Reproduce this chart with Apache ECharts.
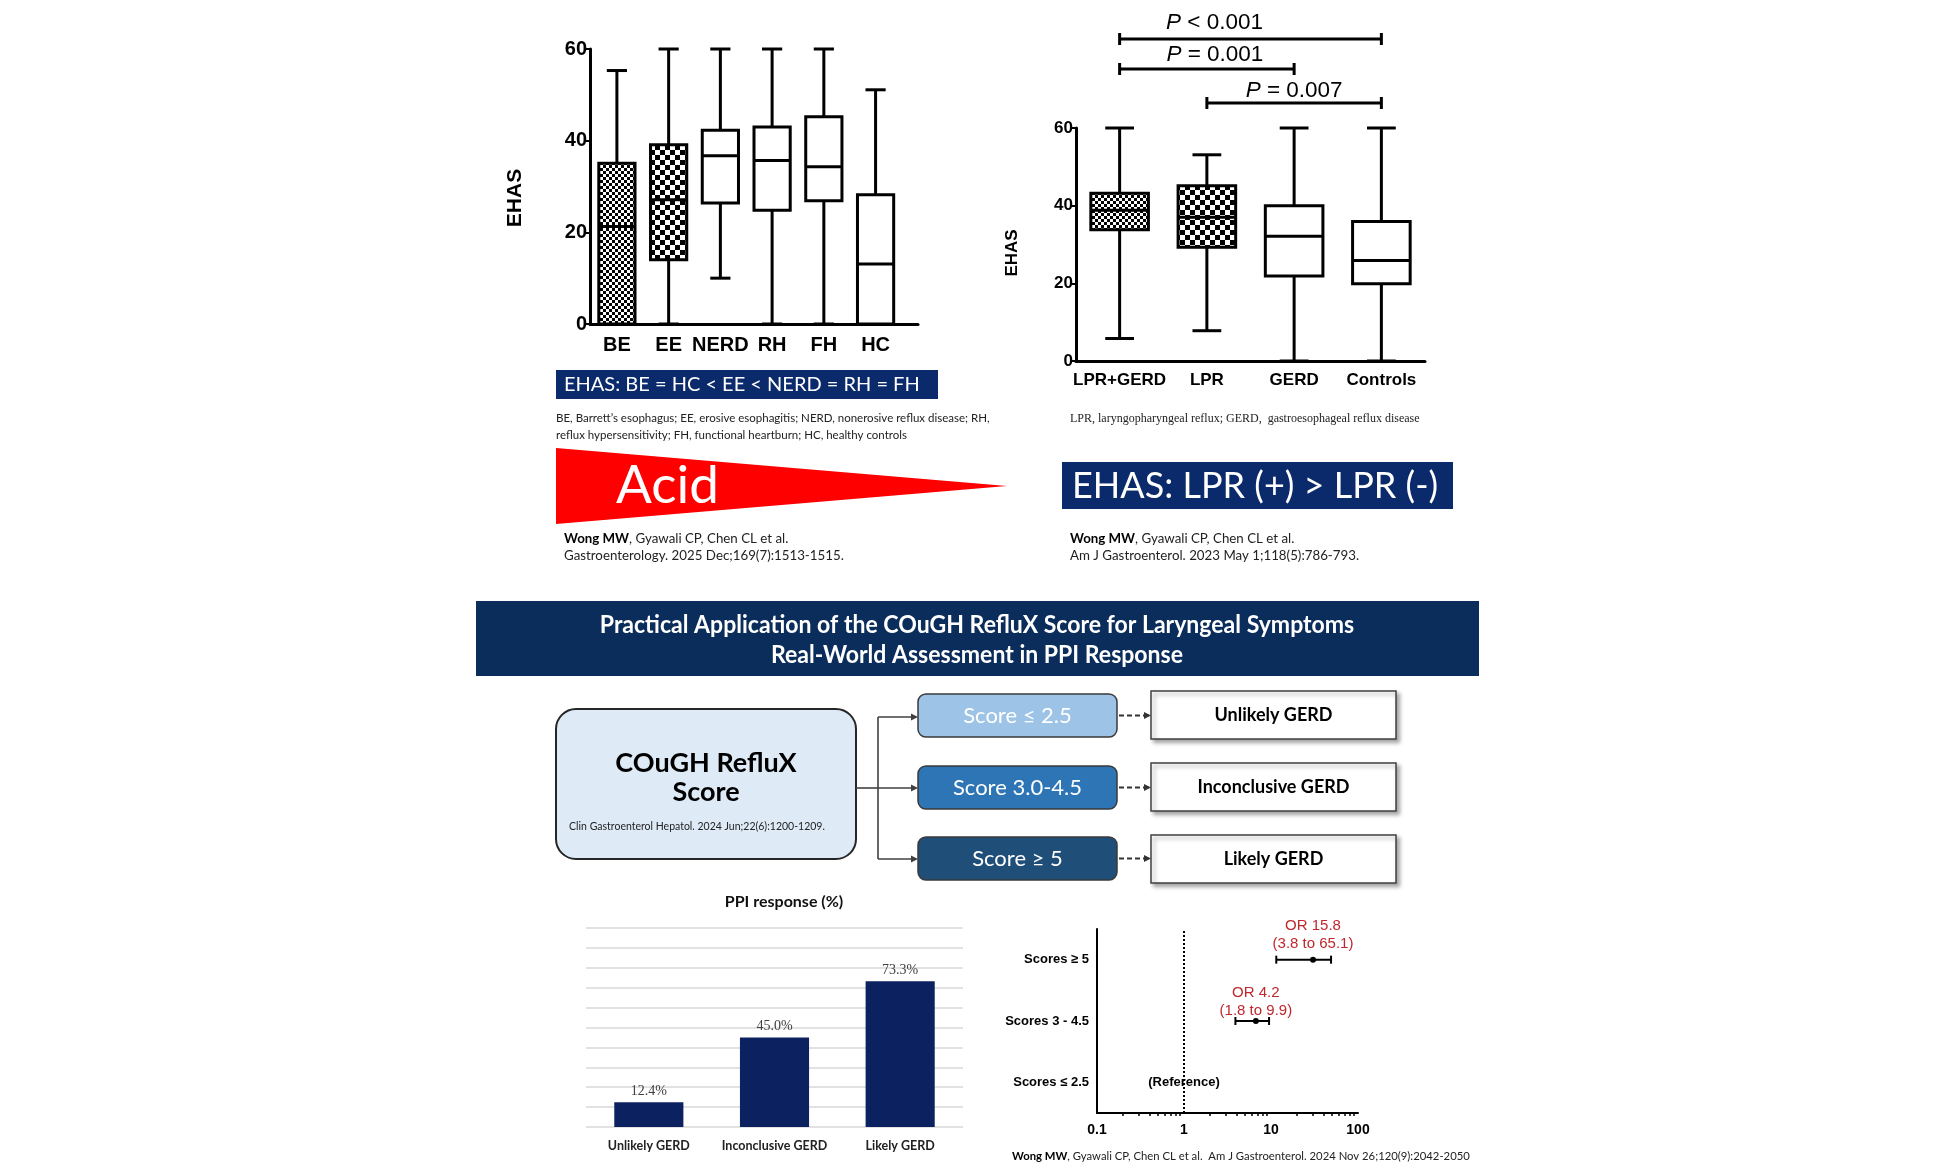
<!DOCTYPE html>
<html><head><meta charset="utf-8">
<script src="https://cdn.jsdelivr.net/npm/echarts@6/dist/echarts.min.js"></script>
<style>html,body{margin:0;padding:0;background:#fff}#c{width:1955px;height:1171px}</style>
</head><body><div id="c"></div>
<script>
// ---------- DATA ----------
const leftCats = ['BE', 'EE', 'NERD', 'RH', 'FH', 'HC'];
const leftMin = [0, 0, 10, 0, 0, 0];
const leftQ1 = [0, 14, 26.4, 24.8, 26.9, 0];
const leftMed = [21.3, 27.1, 36.7, 35.7, 34.3, 13.1];
const leftQ3 = [35.1, 39.1, 42.3, 43.0, 45.2, 28.2];
const leftMax = [55.3, 60, 60, 60, 60, 51.1];
const leftFill = ['fine', 'coarse', 'none', 'none', 'none', 'none'];

const rightCats = ['LPR+GERD', 'LPR', 'GERD', 'Controls'];
const rightMin = [5.8, 7.8, 0, 0];
const rightQ1 = [33.8, 29.3, 21.9, 19.9];
const rightMed = [38.8, 37.0, 32.1, 25.9];
const rightQ3 = [43.2, 45.1, 40.0, 35.9];
const rightMax = [60, 53.1, 60, 60];
const rightFill = ['fine', 'medium', 'none', 'none'];

const sigFrom = [0, 0, 1];
const sigTo = [3, 2, 3];
const sigText = ['< 0.001', '= 0.001', '= 0.007'];

const ppiCats = ['Unlikely GERD', 'Inconclusive GERD', 'Likely GERD'];
const ppiValues = [12.4, 45.0, 73.3];

const forestCats = ['Scores \u2264 2.5', 'Scores 3 - 4.5', 'Scores \u2265 5'];
const forestRows = ['Scores 3 - 4.5', 'Scores \u2265 5'];
const forestPoint = [6.7, 30.4];
const forestLow = [3.9, 11.5];
const forestHigh = [9.5, 49];
const forestLabels = ['OR 4.2\n(1.8 to 9.9)', 'OR 15.8\n(3.8 to 65.1)'];
const refRow = 'Scores \u2264 2.5';
const refValue = 1;
const refText = '(Reference)';
const forestMinorTicks = [0.2,0.3,0.4,0.5,0.6,0.7,0.8,0.9,2,3,4,5,6,7,8,9,20,30,40,50,60,70,80,90];

// ---------- patterns ----------
function checker(sz) {
  const c = document.createElement('canvas');
  c.width = c.height = sz * 2;
  const g = c.getContext('2d');
  g.fillStyle = '#fff'; g.fillRect(0, 0, sz * 2, sz * 2);
  g.fillStyle = '#000'; g.fillRect(0, 0, sz, sz); g.fillRect(sz, sz, sz, sz);
  return { image: c, repeat: 'repeat' };
}
const patterns = { fine: checker(3), coarse: checker(5), medium: checker(5) };

const SANS = 'Liberation Sans, Arial, sans-serif';
const CAL = 'Lato, Open Sans, sans-serif';

function makeBox(fills, boxFrac, capFrac) {
  return function (params, api) {
    const i = params.dataIndex;
    const x = api.value(0);
    const v = [1, 2, 3, 4, 5].map(k => api.value(k));
    const p = v.map(val => api.coord([x, val]));
    const band = api.size([1, 0])[0];
    const hw = band * boxFrac / 2, cw = band * capFrac / 2, cx = p[0][0];
    const st = { stroke: '#000', lineWidth: 3 };
    const ch = [];
    if (v[4] > v[3]) {
      ch.push({ type: 'line', shape: { x1: cx, y1: p[4][1], x2: cx, y2: p[3][1] }, style: st });
      ch.push({ type: 'line', shape: { x1: cx - cw, y1: p[4][1], x2: cx + cw, y2: p[4][1] }, style: st });
    }
    if (v[1] > v[0]) {
      ch.push({ type: 'line', shape: { x1: cx, y1: p[0][1], x2: cx, y2: p[1][1] }, style: st });
      ch.push({ type: 'line', shape: { x1: cx - cw, y1: p[0][1], x2: cx + cw, y2: p[0][1] }, style: st });
    }
    ch.push({ type: 'rect', shape: { x: cx - hw, y: p[3][1], width: 2 * hw, height: p[1][1] - p[3][1] },
      style: { fill: patterns[fills[i]] || '#fff', stroke: '#000', lineWidth: 3 } });
    ch.push({ type: 'line', shape: { x1: cx - hw, y1: p[2][1], x2: cx + hw, y2: p[2][1] }, style: st });
    return { type: 'group', children: ch };
  };
}

const sigOffsets = [89, 59, 25];
const sigTextGap = [16, 14, 12];
const sigShift = [-36, 8, 0];
const forestLabelGap = [1, 7];

const chart = echarts.init(document.getElementById('c'), null, { renderer: 'canvas', width: 1955, height: 1171 });

const T = (x, y, text, font, fill, align, va, extra) => Object.assign({
  type: 'text', x, y, style: { text, font, fill: fill || '#000', align: align || 'left', verticalAlign: va || 'middle' }
}, extra || {});

const graphics = [
  // axis names
  T(515, 198, 'EHAS', 'bold 21px ' + SANS, '#000', 'center', 'middle', { rotation: Math.PI / 2 }),
  T(1012, 253, 'EHAS', 'bold 17px ' + SANS, '#000', 'center', 'middle', { rotation: Math.PI / 2 }),
  // left banner
  { type: 'rect', shape: { x: 556, y: 370, width: 382, height: 29 }, style: { fill: '#0b2a6b' } },
  T(564, 385, 'EHAS: BE = HC < EE < NERD = RH = FH', '20px ' + CAL, '#fff'),
  T(556, 418, 'BE, Barrett\u2019s esophagus; EE, erosive esophagitis; NERD, nonerosive reflux disease; RH,', '11.5px ' + CAL, '#222'),
  T(556, 435, 'reflux hypersensitivity; FH, functional heartburn; HC, healthy controls', '11.5px ' + CAL, '#222'),
  // acid triangle
  { type: 'polygon', shape: { points: [[556, 448], [1007, 486], [556, 524]] }, style: { fill: '#ff0000' } },
  T(616, 486, 'Acid', '53px ' + CAL, '#fff'),
  { type: 'text', x: 564, y: 539, style: { text: '{b|Wong MW}, Gyawali CP, Chen CL et al.', font: '13.3px ' + CAL, fill: '#222', verticalAlign: 'middle',
    rich: { b: { fontWeight: 'bold', fontSize: 13.3, fontFamily: CAL, fill: '#000' } } } },
  T(564, 556, 'Gastroenterology. 2025 Dec;169(7):1513-1515.', '13.3px ' + CAL, '#222'),
  // right footnote & banner
  T(1070, 419, 'LPR, laryngopharyngeal reflux; GERD,  gastroesophageal reflux disease', '12px Liberation Serif, serif', '#222'),
  { type: 'rect', shape: { x: 1062, y: 462, width: 391, height: 47 }, style: { fill: '#0b2a6b' } },
  T(1072, 486, 'EHAS: LPR (+) > LPR (-)', '36px ' + CAL, '#fff'),
  { type: 'text', x: 1070, y: 539, style: { text: '{b|Wong MW}, Gyawali CP, Chen CL et al.', font: '13.3px ' + CAL, fill: '#222', verticalAlign: 'middle',
    rich: { b: { fontWeight: 'bold', fontSize: 13.3, fontFamily: CAL, fill: '#000' } } } },
  T(1070, 556, 'Am J Gastroenterol. 2023 May 1;118(5):786-793.', '13.3px ' + CAL, '#222'),
  // title banner
  { type: 'rect', shape: { x: 476, y: 601, width: 1003, height: 75 }, style: { fill: '#0b2d5b' } },
  T(977, 625, 'Practical Application of the COuGH RefluX Score for Laryngeal Symptoms', 'bold 24px ' + CAL, '#fff', 'center', 'middle', { scaleX: 0.96 }),
  T(977, 655, 'Real-World Assessment in PPI Response', 'bold 24px ' + CAL, '#fff', 'center', 'middle', { scaleX: 0.96 }),
  // flowchart
  { type: 'rect', shape: { x: 556, y: 709, width: 300, height: 150, r: 20 }, style: { fill: '#deebf7', stroke: '#262626', lineWidth: 2 } },
  T(706, 763, 'COuGH RefluX', 'bold 27px ' + CAL, '#000', 'center'),
  T(706, 792, 'Score', 'bold 27px ' + CAL, '#000', 'center'),
  T(697, 827, 'Clin Gastroenterol Hepatol. 2024 Jun;22(6):1200-1209.', '10.5px ' + CAL, '#222', 'center'),
  { type: 'polyline', shape: { points: [[856, 788], [878, 788]] }, style: { stroke: '#404040', lineWidth: 1.6, fill: 'none' } },
  { type: 'polyline', shape: { points: [[878, 717], [878, 859]] }, style: { stroke: '#404040', lineWidth: 1.6, fill: 'none' } }
];
const scoreY = [694, 766, 837];
const scoreCol = ['#9dc3e6', '#2e75b6', '#1f4e79'];
const scoreTxt = ['Score \u2264 2.5', 'Score 3.0-4.5', 'Score \u2265 5'];
const resY = [691, 763, 835];
const resTxt = ['Unlikely GERD', 'Inconclusive GERD', 'Likely GERD'];
const arrowY = [717, 788, 859];
for (let k = 0; k < 3; k++) {
  graphics.push({ type: 'polyline', shape: { points: [[878, arrowY[k]], [912, arrowY[k]]] }, style: { stroke: '#404040', lineWidth: 1.6, fill: 'none' } });
  graphics.push({ type: 'polygon', shape: { points: [[911, arrowY[k] - 3.5], [918, arrowY[k]], [911, arrowY[k] + 3.5]] }, style: { fill: '#404040' } });
  graphics.push({ type: 'rect', shape: { x: 918, y: scoreY[k], width: 199, height: 43, r: 8 }, style: { fill: scoreCol[k], stroke: '#3a3a3a', lineWidth: 1.5 } });
  graphics.push(T(1017.5, scoreY[k] + 21.5, scoreTxt[k], '22px ' + CAL, '#fff', 'center'));
  const cy = scoreY[k] + 21.5;
  graphics.push({ type: 'polyline', shape: { points: [[1119, cy], [1145, cy]] }, style: { stroke: '#333', lineWidth: 2, lineDash: [5, 3], fill: 'none' } });
  graphics.push({ type: 'polygon', shape: { points: [[1144, cy - 3.5], [1151, cy], [1144, cy + 3.5]] }, style: { fill: '#333' } });
  graphics.push({ type: 'rect', shape: { x: 1151, y: resY[k], width: 245, height: 48 },
    style: { fill: '#fff', stroke: '#404040', lineWidth: 1.5, shadowBlur: 4, shadowOffsetX: 3, shadowOffsetY: 3, shadowColor: 'rgba(0,0,0,0.35)' } });
  graphics.push(T(1273.5, resY[k] + 24, resTxt[k], 'bold 18px ' + CAL, '#000', 'center'));
}
graphics.push(T(784, 902, 'PPI response (%)', 'bold 16px ' + CAL, '#111', 'center'));
graphics.push({ type: 'text', x: 1012, y: 1156, style: { text: '{b|Wong MW}, Gyawali CP, Chen CL et al.  Am J Gastroenterol. 2024 Nov 26;120(9):2042-2050',
  font: '11.3px ' + CAL, fill: '#222', verticalAlign: 'middle', rich: { b: { fontWeight: 'bold', fontSize: 11.3, fontFamily: CAL, fill: '#000' } } } });

const axisLineBlack = (w) => ({ show: true, onZero: false, lineStyle: { color: '#000', width: w } });

const option = {
  animation: false,
  backgroundColor: '#fff',
  textStyle: { fontFamily: SANS },
  grid: [
    { left: 590, top: 49, width: 328, height: 275 },
    { left: 1076, top: 128, width: 349, height: 233 },
    { left: 586, top: 928, width: 377, height: 199 },
    { left: 1097, top: 929, width: 261, height: 184 }
  ],
  xAxis: [
    { gridIndex: 0, type: 'value', min: -0.52, max: 5.82, splitLine: { show: false }, axisTick: { show: false },
      axisLine: axisLineBlack(3),
      axisLabel: { customValues: leftCats.map((c, i) => i), formatter: v => leftCats[Math.round(v)], fontWeight: 'bold', fontSize: 20, color: '#000', margin: 11, fontFamily: SANS } },
    { gridIndex: 1, type: 'category', data: rightCats, axisTick: { show: false }, axisLine: axisLineBlack(3),
      axisLabel: { fontWeight: 'bold', fontSize: 17, color: '#000', margin: 11, fontFamily: SANS, interval: 0 } },
    { gridIndex: 2, type: 'category', data: ppiCats, axisTick: { show: false }, axisLine: { show: false },
      axisLabel: { fontWeight: 'bold', fontSize: 12.5, color: '#222', margin: 12, fontFamily: CAL, interval: 0 } },
    { gridIndex: 3, type: 'log', logBase: 10, min: 0.1, max: 100, splitLine: { show: false }, axisLine: axisLineBlack(2),
      axisTick: { length: 6, lineStyle: { width: 2, color: '#000' } },
      axisLabel: { fontWeight: 'bold', fontSize: 14, color: '#000', margin: 10, fontFamily: SANS, formatter: v => String(+(+v).toPrecision(3)) } },
    { gridIndex: 3, type: 'value', min: -1, max: 2, position: 'bottom', splitLine: { show: false }, axisLine: { show: false },
      axisLabel: { show: false }, axisTick: { show: true, length: 3, customValues: forestMinorTicks.map(v => Math.log10(v)), lineStyle: { width: 1.5, color: '#000' } } }
  ],
  yAxis: [
    { gridIndex: 0, type: 'value', min: 0, max: 60, interval: 20, splitLine: { show: false }, axisLine: axisLineBlack(3),
      axisTick: { show: true, length: 4, lineStyle: { width: 2, color: '#000' } },
      axisLabel: { fontWeight: 'bold', fontSize: 20, color: '#000', margin: 3, fontFamily: SANS } },
    { gridIndex: 1, type: 'value', min: 0, max: 60, interval: 20, splitLine: { show: false }, axisLine: axisLineBlack(3),
      axisTick: { show: true, length: 4, lineStyle: { width: 2, color: '#000' } },
      axisLabel: { fontWeight: 'bold', fontSize: 17, color: '#000', margin: 3, fontFamily: SANS } },
    { gridIndex: 2, type: 'value', min: 0, max: 100, interval: 10, axisLabel: { show: false }, axisLine: { show: false }, axisTick: { show: false },
      splitLine: { show: true, lineStyle: { color: '#d9d9d9', width: 1.5 } } },
    { gridIndex: 3, type: 'category', data: forestCats, axisLine: axisLineBlack(2),
      axisTick: { alignWithLabel: true, length: 5, lineStyle: { width: 2, color: '#000' } },
      axisLabel: { fontWeight: 'bold', fontSize: 13, color: '#000', margin: 8, fontFamily: SANS } }
  ],
  series: [
    { type: 'custom', xAxisIndex: 0, yAxisIndex: 0, renderItem: makeBox(leftFill, 0.7, 0.39),
      encode: { x: 0, y: [1, 2, 3, 4, 5] },
      data: leftCats.map((c, i) => [i, leftMin[i], leftQ1[i], leftMed[i], leftQ3[i], leftMax[i]]) },
    { type: 'custom', xAxisIndex: 1, yAxisIndex: 1, renderItem: makeBox(rightFill, 0.66, 0.33),
      encode: { x: 0, y: [1, 2, 3, 4, 5] },
      data: rightCats.map((c, i) => [i, rightMin[i], rightQ1[i], rightMed[i], rightQ3[i], rightMax[i]]) },
    { type: 'custom', xAxisIndex: 1, yAxisIndex: 1, encode: { x: 0, y: 1 },
      data: sigFrom.map((f, i) => [f, 60, sigTo[i]]),
      renderItem: function (params, api) {
        const i = params.dataIndex;
        const a = api.coord([api.value(0), 60]);
        const b = api.coord([api.value(2), 60]);
        const y = a[1] - sigOffsets[i];
        const st = { stroke: '#000', lineWidth: 3 };
        return { type: 'group', children: [
          { type: 'line', shape: { x1: a[0], y1: y, x2: b[0], y2: y }, style: st },
          { type: 'line', shape: { x1: a[0], y1: y - 6, x2: a[0], y2: y + 6 }, style: st },
          { type: 'line', shape: { x1: b[0], y1: y - 6, x2: b[0], y2: y + 6 }, style: st },
          { type: 'text', style: { x: (a[0] + b[0]) / 2 + sigShift[i], y: y - sigTextGap[i], text: '{i|P} ' + sigText[i],
            fontSize: 22.5, fontFamily: SANS, fill: '#000', align: 'center', verticalAlign: 'middle',
            rich: { i: { fontStyle: 'italic', fontSize: 22.5, fontFamily: SANS, fill: '#000' } } } }
        ] };
      } },
    { type: 'bar', xAxisIndex: 2, yAxisIndex: 2, data: ppiValues, barWidth: '55%',
      itemStyle: { color: '#0c2160' },
      label: { show: true, position: 'top', distance: 4, formatter: p => p.value.toFixed(1) + '%',
        fontFamily: 'Liberation Serif, serif', fontSize: 14, color: '#404040' } },
    { type: 'custom', xAxisIndex: 3, yAxisIndex: 3, encode: { x: [0, 2, 3], y: 1 },
      data: forestRows.map((r, i) => [forestPoint[i], r, forestLow[i], forestHigh[i]]),
      renderItem: function (params, api) {
        const i = params.dataIndex;
        const yv = api.value(1);
        const p = api.coord([api.value(0), yv]);
        const lo = api.coord([api.value(2), yv]);
        const hi = api.coord([api.value(3), yv]);
        const st = { stroke: '#000', lineWidth: 2 };
        return { type: 'group', children: [
          { type: 'line', shape: { x1: lo[0], y1: p[1], x2: hi[0], y2: p[1] }, style: st },
          { type: 'line', shape: { x1: lo[0], y1: p[1] - 4, x2: lo[0], y2: p[1] + 4 }, style: st },
          { type: 'line', shape: { x1: hi[0], y1: p[1] - 4, x2: hi[0], y2: p[1] + 4 }, style: st },
          { type: 'circle', shape: { cx: p[0], cy: p[1], r: 3 }, style: { fill: '#000' } },
          { type: 'text', style: { x: p[0], y: p[1] - forestLabelGap[i], text: forestLabels[i], fontSize: 15, fontFamily: SANS,
            fill: '#c0272d', align: 'center', verticalAlign: 'bottom', lineHeight: 18 } }
        ] };
      },
      markLine: { silent: true, symbol: 'none', label: { show: false },
        lineStyle: { type: 'dotted', color: '#000', width: 2 }, data: [{ xAxis: 1 }] } },
    { type: 'custom', xAxisIndex: 3, yAxisIndex: 3, encode: { x: 0, y: 1 },
      data: [[refValue, refRow]],
      renderItem: function (params, api) {
        const p = api.coord([api.value(0), api.value(1)]);
        return { type: 'text', style: { x: p[0], y: p[1], text: refText, fontSize: 13, fontWeight: 'bold', fontFamily: SANS,
          fill: '#000', align: 'center', verticalAlign: 'middle' } };
      } }
  ],
  graphic: { elements: graphics }
};
chart.setOption(option);
</script>
</body></html>
